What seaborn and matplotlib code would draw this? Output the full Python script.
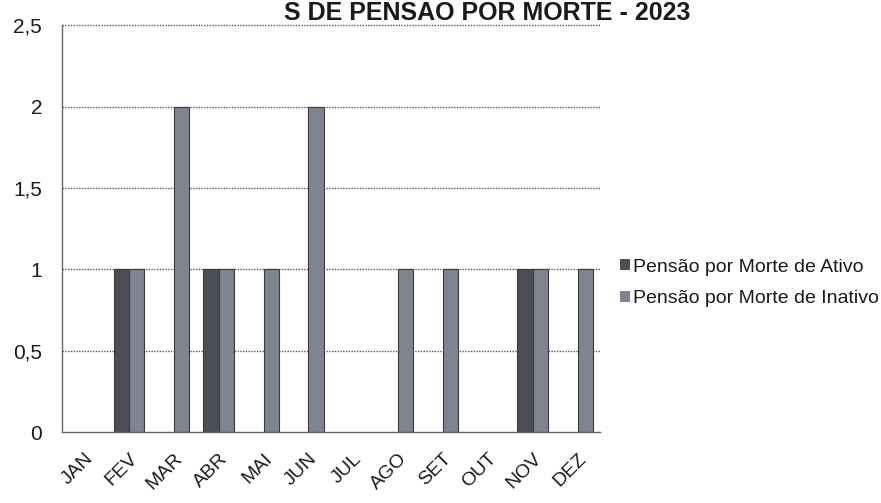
import pandas as pd
import seaborn as sns
import matplotlib.pyplot as plt

# Chart data
meses = ['JAN', 'FEV', 'MAR', 'ABR', 'MAI', 'JUN', 'JUL', 'AGO', 'SET', 'OUT', 'NOV', 'DEZ']
ativo = [0, 1, 0, 1, 0, 0, 0, 0, 0, 0, 1, 0]
inativo = [0, 1, 2, 1, 1, 2, 0, 1, 1, 0, 1, 1]
series = ['Pensão por Morte de Ativo', 'Pensão por Morte de Inativo']
y_ticks = [0, 0.5, 1, 1.5, 2, 2.5]
y_labels = ['0', '0,5', '1', '1,5', '2', '2,5']

df = pd.DataFrame({
    'Mes': meses * 2,
    'Serie': [series[0]] * len(meses) + [series[1]] * len(meses),
    'Valor': ativo + inativo,
})

sns.set_style('white')
plt.rcParams['font.family'] = ['Liberation Sans', 'DejaVu Sans']
plt.rcParams['text.color'] = '#1a1a1a'
plt.rcParams['xtick.color'] = '#1a1a1a'
plt.rcParams['ytick.color'] = '#1a1a1a'

fig = plt.figure(figsize=(8.81, 5.03), dpi=100)
ax = fig.add_axes([0.070, 0.141, 0.611, 0.809])

sns.barplot(data=df, x='Mes', y='Valor', hue='Serie', order=meses, hue_order=series,
            palette=['#4b4c58', '#7c8294'], width=0.68, linewidth=0.8,
            edgecolor='#3a3a3a', ax=ax)

# no outline for empty bars
for p in ax.patches:
    if p.get_height() == 0:
        p.set_linewidth(0)

ax.set_ylim(0, 2.5)
ax.set_xlim(-0.5, len(meses) - 0.5)
ax.set_yticks(y_ticks)
ax.set_yticklabels(y_labels, fontsize=15)
ax.set_xlabel('')
ax.set_ylabel('')

# dotted grid
for v in y_ticks[1:]:
    ax.axhline(v, color='#555555', linestyle=(0, (1, 1)), linewidth=1, zorder=0, clip_on=False)
ax.set_axisbelow(True)

# x ticks at category boundaries, labels at centres
ax.set_xticks(range(len(meses)))
ax.set_xticklabels(meses, fontsize=14, rotation=45, ha='right', rotation_mode='anchor')
ax.set_xticks([i - 0.5 for i in range(len(meses) + 1)], minor=True)
ax.tick_params(axis='x', which='major', length=0, pad=13)
ax.tick_params(axis='x', which='minor', length=5, color='#555555', direction='out')
ax.tick_params(axis='y', length=8, color='#555555', direction='out', pad=6)

for s in ['top', 'right']:
    ax.spines[s].set_visible(False)
for s in ['left', 'bottom']:
    ax.spines[s].set_color('#666666')
    ax.spines[s].set_linewidth(1)

leg = ax.legend(loc='center left', bbox_to_anchor=(1.005, 0.366), frameon=False,
                fontsize=14, handlelength=0.5, handleheight=0.5, handletextpad=0.15,
                labelspacing=0.75)

fig.text(690 / 881, 1 - 20 / 503, 'S DE PENSÃO POR MORTE - 2023', ha='right', va='baseline',
         fontsize=18, fontweight='bold', color='#1a1a1a')

plt.savefig('out.png', dpi=100)
